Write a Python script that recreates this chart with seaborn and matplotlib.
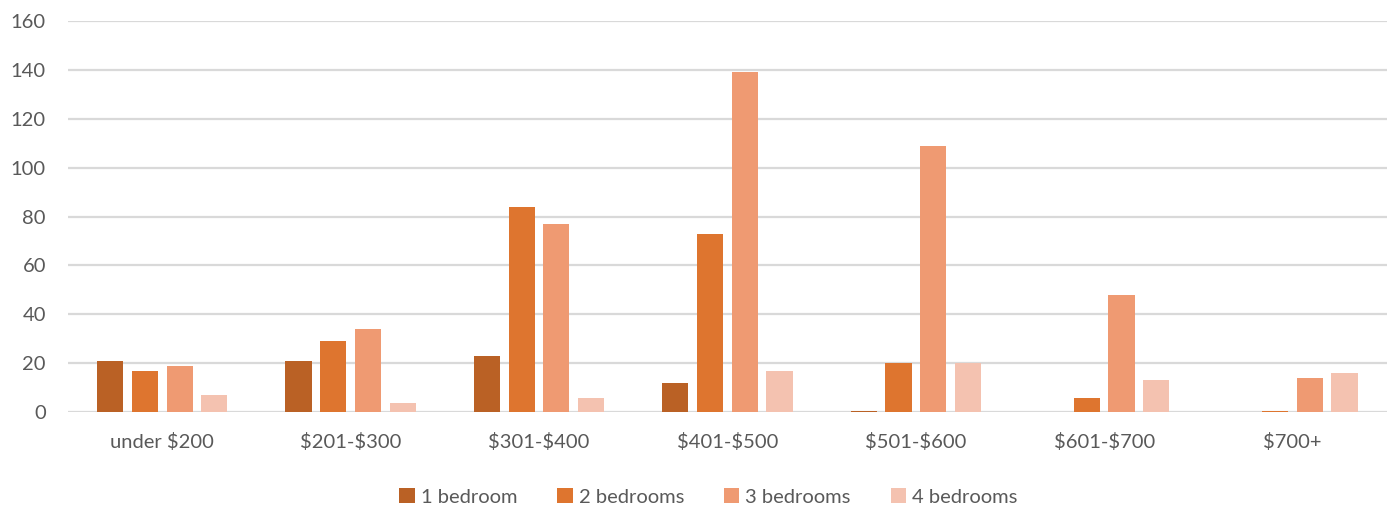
import matplotlib
matplotlib.use("Agg")
import matplotlib.pyplot as plt
import seaborn as sns
import pandas as pd

# Weekly rent bands and number of listings per bedroom count
price_ranges = ["under $200", "$201-$300", "$301-$400", "$401-$500",
                "$501-$600", "$601-$700", "$700+"]
one_bedroom = [21, 21, 23, 12, 0.5, 0, 0]
two_bedrooms = [17, 29, 84, 73, 20, 6, 0.5]
three_bedrooms = [19, 34, 77, 139, 109, 48, 14]
four_bedrooms = [7, 4, 6, 17, 20, 13, 16]

series_names = ["1 bedroom", "2 bedrooms", "3 bedrooms", "4 bedrooms"]
series_values = [one_bedroom, two_bedrooms, three_bedrooms, four_bedrooms]
palette = ["#BA6125", "#DE752F", "#EF9A72", "#F4C2B0"]

y_ticks = [0, 20, 40, 60, 80, 100, 120, 140, 160]

rows = []
for name, vals in zip(series_names, series_values):
    for rng, v in zip(price_ranges, vals):
        rows.append({"range": rng, "count": v, "bedrooms": name})
df = pd.DataFrame(rows)

sns.set_theme(style="white")
plt.rcParams["font.family"] = ["Lato", "DejaVu Sans"]
plt.rcParams["text.parse_math"] = False
text_color = "#595959"
grid_color = "#D9D9D9"
font_size = 14.5

W, H = 1392, 508
fig = plt.figure(figsize=(W / 100, H / 100), dpi=100)
ax = fig.add_axes([68.1 / W, 1 - 412.3 / H, (1386.7 - 68.1) / W, (412.3 - 20.7) / H])

sns.barplot(data=df, x="range", y="count", hue="bedrooms",
            order=price_ranges, hue_order=series_names,
            palette=palette, saturation=1, width=0.737, gap=0.245,
            errorbar=None, linewidth=0, ax=ax, zorder=3)

ax.set_xlim(-0.5, len(price_ranges) - 0.5)
ax.set_ylim(0, 160)
ax.set_yticks(y_ticks)
ax.set_yticklabels([str(t) for t in y_ticks])
ax.set_xticks(range(len(price_ranges)))
ax.set_xticklabels(price_ranges)
ax.set_xlabel("")
ax.set_ylabel("")

for s in ax.spines.values():
    s.set_visible(False)
ax.yaxis.grid(True, color=grid_color, linewidth=1.6, zorder=1)
ax.set_axisbelow(True)

ax.tick_params(axis="y", length=0, pad=16, labelsize=font_size, labelcolor=text_color)
ax.tick_params(axis="x", length=0, pad=15, labelsize=font_size, labelcolor=text_color)

leg = ax.legend(loc="center", bbox_to_anchor=(708.5 / W, 1 - 497 / H),
                bbox_transform=fig.transFigure, ncol=4, frameon=False,
                handlelength=0.75, handleheight=0.75, handletextpad=0.3,
                columnspacing=2.0, fontsize=font_size)
for t in leg.get_texts():
    t.set_color(text_color)

fig.savefig("out.png", dpi=100)
